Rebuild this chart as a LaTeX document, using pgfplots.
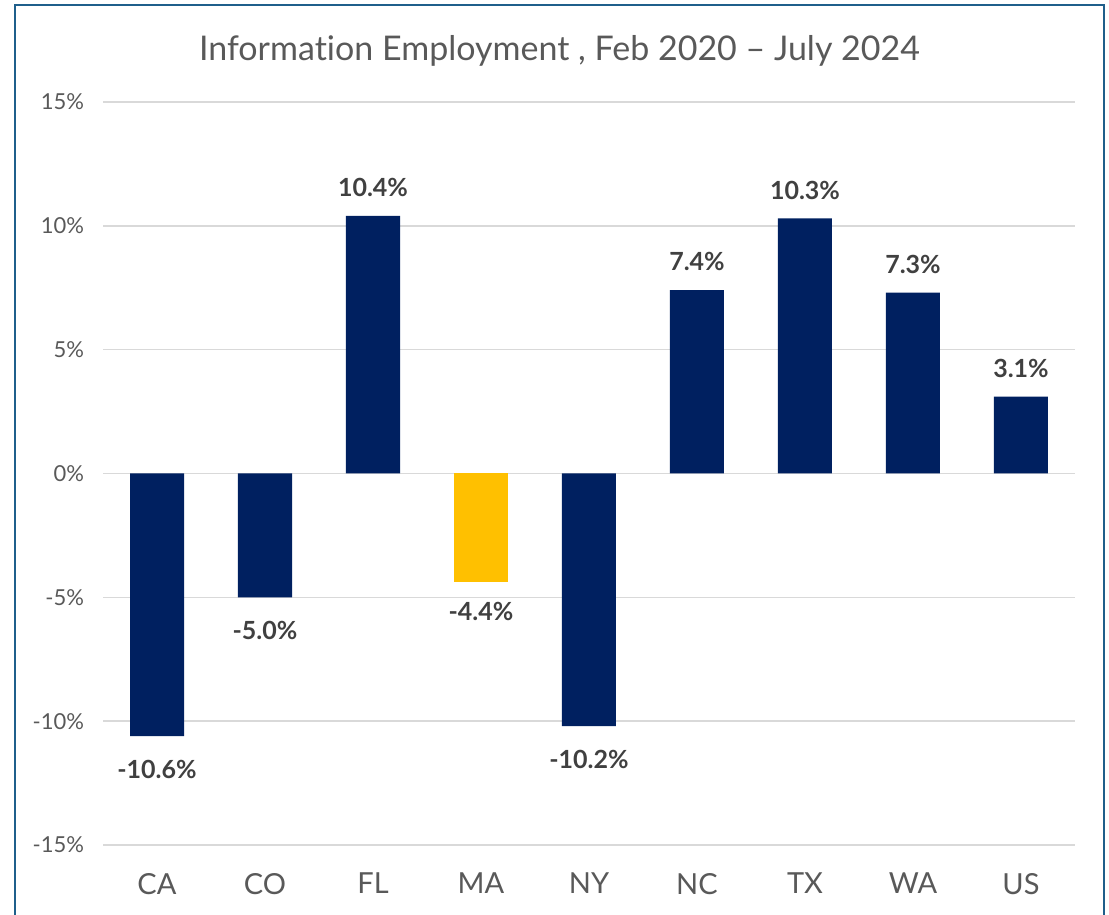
\documentclass[border=0pt]{standalone}
\usepackage{fontspec}
\setmainfont{Lato}[Ligatures=NoCommon]
\usepackage{pgfplots}
\pgfplotsset{compat=1.18}
\definecolor{navy}{HTML}{002060}
\definecolor{gold}{HTML}{FFC000}
\definecolor{txtgray}{HTML}{595959}
\definecolor{lblgray}{HTML}{404040}
\definecolor{gridgray}{HTML}{D9D9D9}
\definecolor{frame}{HTML}{1F5F8B}
\begin{document}
\begin{tikzpicture}[x=1pt,y=1pt]
\path[use as bounding box] (0,0) rectangle (554.5,457.5);
\draw[frame, line width=1.2pt] (7.5,-5) -- (7.5,455) -- (552,455) -- (552,-5);
\node[txtgray, font=\fontsize{17}{17}\selectfont] at (279.75,432) {Information Employment , Feb 2020 – July 2024};
\begin{axis}[
  at={(51.5pt,35pt)}, anchor=south west,
  width=486pt, height=371.5pt, scale only axis,
  xmin=-0.5, xmax=8.5, ymin=-15, ymax=15,
  ytick={-15,-10,...,15},
  xtick={0,...,8},
  xticklabels={CA,CO,FL,MA,NY,NC,TX,WA,US},
  axis line style={draw=none},
  major tick length=0pt,
  ymajorgrids, grid style={gridgray, line width=0.8pt},
  /pgf/number format/assume math mode=true,
  yticklabel={\pgfmathprintnumber{\tick}\%},
  yticklabel style={txtgray, font=\fontsize{11}{11}\selectfont, xshift=-6pt},
  xticklabel style={txtgray, font=\fontsize{14.5}{14.5}\selectfont, yshift=-10.5pt},
  ybar, bar width=27pt, bar shift=0pt,
  nodes near coords={\pgfmathprintnumber[fixed,fixed zerofill,precision=1]{\pgfplotspointmeta}\%},
  every node near coord/.append style={lblgray, font=\bfseries\fontsize{12.5}{12.5}\selectfont},
]
\addplot[fill=navy, draw=none, every node near coord/.append style={anchor=south, yshift=6pt}] coordinates {(2,10.4) (5,7.4) (6,10.3) (7,7.3) (8,3.1)};
\addplot[fill=navy, draw=none, every node near coord/.append style={anchor=north, yshift=-8.5pt}] coordinates {(0,-10.6) (1,-5.0) (4,-10.2)};
\addplot[fill=gold, draw=none, every node near coord/.append style={anchor=north, yshift=-6.5pt}] coordinates {(3,-4.4)};
\end{axis}
\end{tikzpicture}
\end{document}
